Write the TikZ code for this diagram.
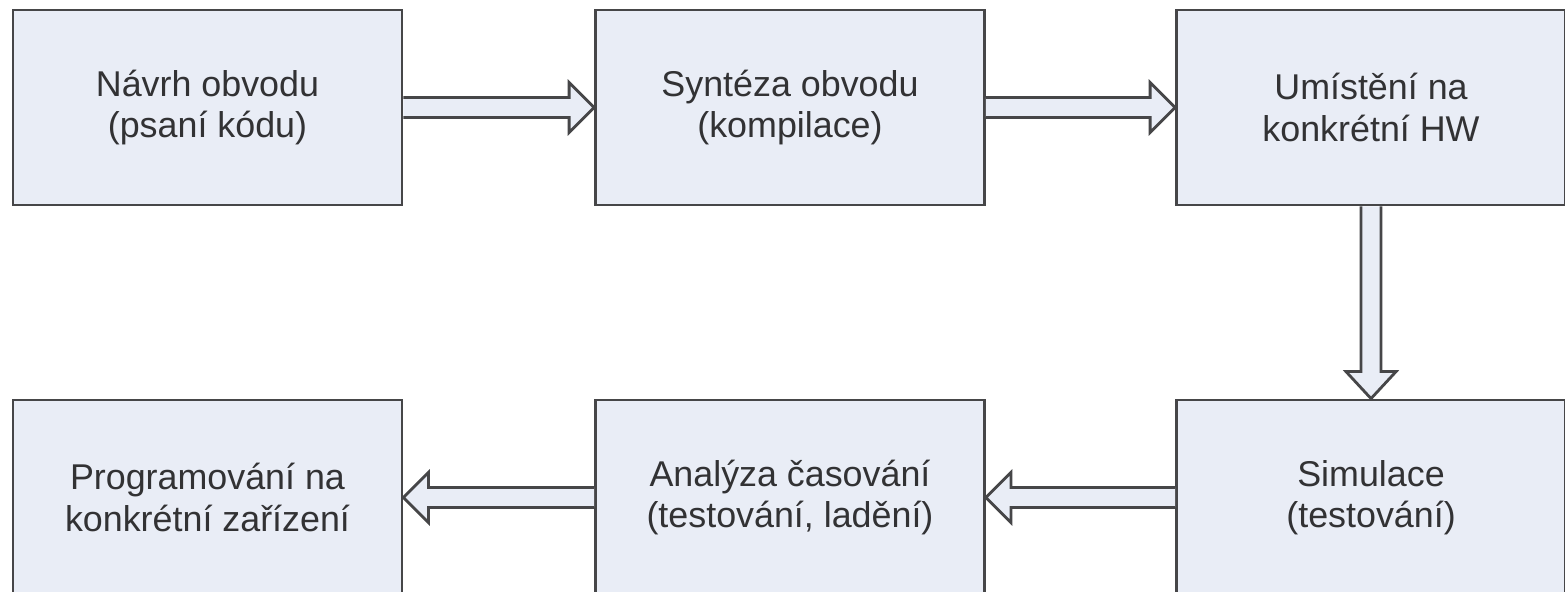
\documentclass[tikz,border=0pt]{standalone}
\usepackage{fontspec}
\setmainfont{Liberation Sans}
\usetikzlibrary{calc}
\definecolor{boxfill}{RGB}{233,237,246}
\definecolor{boxline}{RGB}{70,70,72}
\definecolor{textgray}{RGB}{50,50,52}
\begin{document}
\begin{tikzpicture}[
  stage/.style={draw=boxline, line width=0.8pt, fill=boxfill, minimum width=3.89cm, minimum height=1.95cm,
    align=center, text=textgray, font=\fontsize{10.2}{11.7}\selectfont},
  hollow/.style={draw=boxline, line width=0.8pt, fill=boxfill, line join=miter}
]
\useasboundingbox (0,0) rectangle (15.65,5.92);
\clip (0,0) rectangle (15.65,5.92);
\fill[white] (0,0) rectangle (15.65,5.92);
\node[stage] (navrh) at (2.075,4.845) {Návrh obvodu\\ (psaní kódu)};
\node[stage] (synteza) at (7.90,4.845) {Syntéza obvodu\\ (kompilace)};
\node[stage] (umisteni) at (13.71,4.845) {Umístění na\\ konkrétní HW};
\node[stage] (simulace) at (13.71,0.945) {Simulace\\ (testování)};
\node[stage] (analyza) at (7.90,0.945) {Analýza časování\\ (testování, ladění)};
\node[stage] (programovani) at (2.075,0.945) {Programování na\\ konkrétní zařízení};
% hollow block arrows
\draw[hollow] ($(navrh.east)+(0,0.1)$) -- ($(synteza.west)+(-0.25,0.1)$) -- ($(synteza.west)+(-0.25,0.25)$)
  -- (synteza.west) -- ($(synteza.west)+(-0.25,-0.25)$) -- ($(synteza.west)+(-0.25,-0.1)$) -- ($(navrh.east)+(0,-0.1)$);
\draw[hollow] ($(synteza.east)+(0,0.1)$) -- ($(umisteni.west)+(-0.25,0.1)$) -- ($(umisteni.west)+(-0.25,0.25)$)
  -- (umisteni.west) -- ($(umisteni.west)+(-0.25,-0.25)$) -- ($(umisteni.west)+(-0.25,-0.1)$) -- ($(synteza.east)+(0,-0.1)$);
\draw[hollow] ($(umisteni.south)+(-0.1,0)$) -- ($(simulace.north)+(-0.1,0.27)$) -- ($(simulace.north)+(-0.25,0.27)$)
  -- (simulace.north) -- ($(simulace.north)+(0.25,0.27)$) -- ($(simulace.north)+(0.1,0.27)$) -- ($(umisteni.south)+(0.1,0)$);
\draw[hollow] ($(simulace.west)+(0,0.1)$) -- ($(analyza.east)+(0.25,0.1)$) -- ($(analyza.east)+(0.25,0.25)$)
  -- (analyza.east) -- ($(analyza.east)+(0.25,-0.25)$) -- ($(analyza.east)+(0.25,-0.1)$) -- ($(simulace.west)+(0,-0.1)$);
\draw[hollow] ($(analyza.west)+(0,0.1)$) -- ($(programovani.east)+(0.25,0.1)$) -- ($(programovani.east)+(0.25,0.25)$)
  -- (programovani.east) -- ($(programovani.east)+(0.25,-0.25)$) -- ($(programovani.east)+(0.25,-0.1)$) -- ($(analyza.west)+(0,-0.1)$);
\end{tikzpicture}
\end{document}
